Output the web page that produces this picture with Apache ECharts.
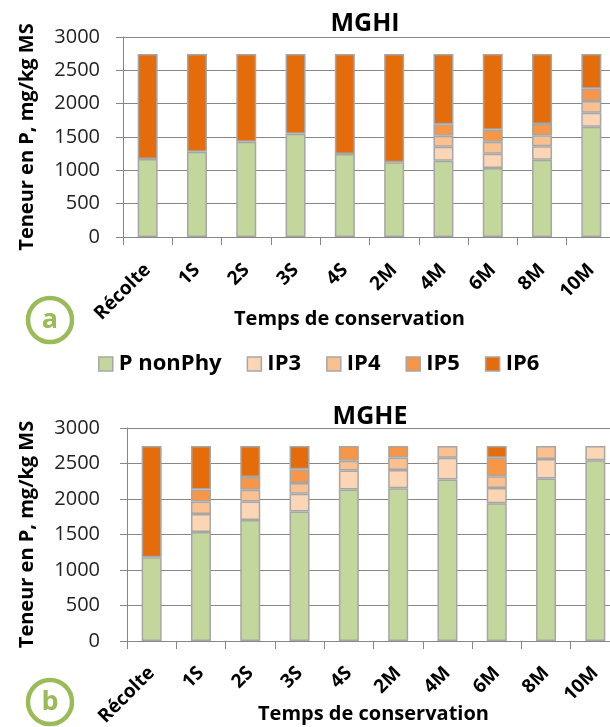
<!DOCTYPE html>
<html>
<head>
<meta charset="utf-8">
<script src="https://cdn.jsdelivr.net/npm/echarts@6/dist/echarts.min.js"></script>
<style>
  html, body { margin: 0; padding: 0; background: #fff; }
  #chart { width: 610px; height: 727px; }
</style>
</head>
<body>
<div id="chart"></div>
<script>
// categories (temps de conservation)
var categories = ["Récolte", "1S", "2S", "3S", "4S", "2M", "4M", "6M", "8M", "10M"];
var seriesNames = ["P nonPhy", "IP3", "IP4", "IP5", "IP6"];
var yTicks = [0, 500, 1000, 1500, 2000, 2500, 3000];

// MGHI (a)
var mghiNonPhy = [1170, 1280, 1430, 1550, 1245, 1120, 1145, 1035, 1160, 1655];
var mghiIP3 = [0, 0, 0, 0, 0, 0, 210, 215, 200, 210];
var mghiIP4 = [0, 0, 0, 0, 0, 0, 165, 180, 165, 175];
var mghiIP5 = [0, 0, 0, 0, 0, 0, 170, 180, 170, 185];
var mghiIP6 = [1575, 1465, 1315, 1195, 1500, 1625, 1055, 1135, 1050, 520];

// MGHE (b)
var mgheNonPhy = [1180, 1535, 1705, 1825, 2135, 2150, 2275, 1940, 2290, 2545];
var mgheIP3 = [0, 255, 260, 250, 265, 260, 305, 215, 275, 200];
var mgheIP4 = [0, 175, 165, 150, 140, 175, 165, 165, 180, 0];
var mgheIP5 = [0, 170, 180, 195, 205, 160, 0, 260, 0, 0];
var mgheIP6 = [1565, 610, 435, 325, 0, 0, 0, 165, 0, 0];

var colors = ["#C3D69B", "#FCD5B5", "#FAC090", "#F79646", "#E46C0A"];
var font = "'Open Sans', sans-serif";
var gridColor = "#868686";

var chart = echarts.init(document.getElementById("chart"));

function noZero(arr) {
  return arr.map(function (v) { return v === 0 ? "-" : v; });
}

function makeSeries(idx, data) {
  var out = [];
  for (var i = 0; i < data.length; i++) {
    out.push({
      name: seriesNames[i],
      type: "bar",
      stack: "s" + idx,
      xAxisIndex: idx,
      yAxisIndex: idx,
      barWidth: 20,
      data: noZero(data[i]),
      itemStyle: { color: colors[i], borderColor: "#A6A6A6", borderWidth: 1.5 }
    });
  }
  return out;
}

function makeX(idx, margin, nameGap, namePad) {
  return {
    type: "category",
    gridIndex: idx,
    data: categories,
    axisLine: { lineStyle: { color: gridColor, width: 1 } },
    axisTick: { show: true, length: 8, lineStyle: { color: gridColor } },
    axisLabel: { rotate: 45, margin: margin, color: "#000", fontFamily: font, fontWeight: "bold", fontSize: 19, interval: 0 },
    name: "Temps de conservation",
    nameLocation: "middle",
    nameGap: nameGap,
    nameMoveOverlap: false,
    nameTextStyle: { color: "#000", fontFamily: font, fontWeight: "bold", fontSize: 20, padding: namePad }
  };
}

function makeY(idx, margin, nameGap) {
  return {
    type: "value",
    gridIndex: idx,
    min: yTicks[0],
    max: yTicks[yTicks.length - 1],
    interval: yTicks[1] - yTicks[0],
    axisLine: { show: true, lineStyle: { color: gridColor, width: 1 } },
    axisTick: { show: true, length: 7, lineStyle: { color: gridColor } },
    splitLine: { show: true, lineStyle: { color: gridColor, width: 1 } },
    axisLabel: {
      margin: margin, color: "#222", fontFamily: font, fontSize: 20,
      formatter: function (v) { return String(v); }
    },
    name: "Teneur en P, mg/kg MS",
    nameLocation: "middle",
    nameRotate: 90,
    nameGap: nameGap,
    nameMoveOverlap: false,
    nameTextStyle: { color: "#000", fontFamily: font, fontWeight: "bold", fontSize: 20 }
  };
}

var option = {
  animation: false,
  backgroundColor: "#fff",
  grid: [
    { left: 123, top: 37, width: 493, height: 200, outerBoundsMode: "none", containLabel: false },
    { left: 127, top: 428, width: 493, height: 213, outerBoundsMode: "none", containLabel: false }
  ],
  legend: {
    data: seriesNames,
    left: 93,
    top: 348,
    itemWidth: 14,
    itemHeight: 14,
    itemGap: 25,
    icon: "rect",
    itemStyle: { borderColor: "#A6A6A6", borderWidth: 1.5 },
    textStyle: { color: "#000", fontFamily: font, fontWeight: "bold", fontSize: 22, padding: [0, 0, 0, 1] }
  },
  xAxis: [makeX(0, 30, 72, [0, 40, 0, 0]), makeX(1, 29, 63, [0, 0, 0, 0])],
  yAxis: [makeY(0, 23, 86), makeY(1, 27, 90)],
  series: makeSeries(0, [mghiNonPhy, mghiIP3, mghiIP4, mghiIP5, mghiIP6])
    .concat(makeSeries(1, [mgheNonPhy, mgheIP3, mgheIP4, mgheIP5, mgheIP6])),
  graphic: [
    { type: "text", x: 365, y: 24, style: { text: "MGHI", fill: "#000", font: "bold 25px " + font, textAlign: "center", textVerticalAlign: "middle" } },
    { type: "text", x: 370, y: 417, style: { text: "MGHE", fill: "#000", font: "bold 25px " + font, textAlign: "center", textVerticalAlign: "middle" } },
    { type: "circle", shape: { cx: 50, cy: 320, r: 22 }, style: { fill: "none", stroke: "#9BBB59", lineWidth: 4.5 } },
    { type: "text", x: 50, y: 320, style: { text: "a", fill: "#9BBB59", font: "bold 27px " + font, textAlign: "center", textVerticalAlign: "middle" } },
    { type: "circle", shape: { cx: 50, cy: 702, r: 22 }, style: { fill: "none", stroke: "#9BBB59", lineWidth: 4.5 } },
    { type: "text", x: 50, y: 702, style: { text: "b", fill: "#9BBB59", font: "bold 27px " + font, textAlign: "center", textVerticalAlign: "middle" } }
  ]
};

chart.setOption(option);
</script>
</body>
</html>
